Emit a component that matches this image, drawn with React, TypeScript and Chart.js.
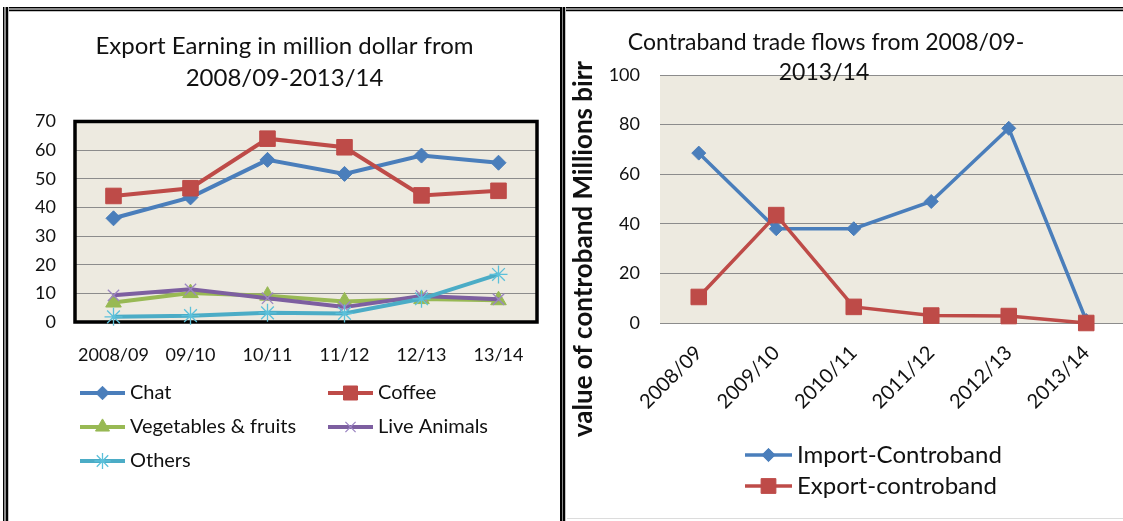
import React, { useEffect, useRef } from "react";
import { Chart, registerables } from "chart.js";
import { drawPoint } from "chart.js/helpers";

Chart.register(...registerables);

// ---------- Data: left chart ----------
const exportTitle = ["Export Earning in million dollar from", "2008/09-2013/14"];
const exportYears = ["2008/09", "09/10", "10/11", "11/12", "12/13", "13/14"];
const chatValues = [36.2, 43.5, 56.6, 51.7, 58.1, 55.6];
const coffeeValues = [44.0, 46.7, 64.0, 61.0, 44.2, 45.8];
const vegValues = [6.8, 10.1, 9.2, 7.2, 8.0, 7.6];
const liveAnimalValues = [9.3, 11.4, 8.3, 5.2, 9.1, 7.9];
const othersValues = [1.8, 2.2, 3.2, 3.0, 8.1, 16.6];
const exportSeriesNames = ["Chat", "Coffee", "Vegetables & fruits", "Live Animals", "Others"];
const exportYMin = 0;
const exportYMax = 70;
const exportYStep = 10;

// ---------- Data: right chart ----------
const contrabandTitle = ["Contraband trade flows from 2008/09-", "2013/14"];
const contrabandYears = ["2008/09", "2009/10", "2010/11", "2011/12", "2012/13", "2013/14"];
const importContraband = [68.5, 38.0, 38.0, 49.0, 78.5, 1.0];
const exportContraband = [10.5, 43.5, 6.5, 3.0, 2.8, 0.0];
const contrabandSeriesNames = ["Import-Controband", "Export-controband"];
const contrabandYTitle = "value of controband Millions birr";
const contrabandYMin = 0;
const contrabandYMax = 100;
const contrabandYStep = 20;

const FONT = "Lato, 'Open Sans', 'Liberation Sans', sans-serif";
const PLOT_BG = "#EDEAE0";
const GRID = "#8c8c8c";
const TEXT = "#111";

const BLUE = "#4A7EBB";
const RED = "#BE4B48";
const GREEN = "#98B954";
const PURPLE = "#7D5FA0";
const CYAN = "#4BACC6";

// ---------- Plugins ----------
const plotFrame = {
  id: "plotFrame",
  beforeDraw(chart: any, _a: any, opts: any) {
    const { ctx, chartArea: a } = chart;
    ctx.save();
    ctx.fillStyle = opts.background;
    ctx.fillRect(a.left, a.top, a.right - a.left, a.bottom - a.top);
    ctx.restore();
  },
  beforeDatasetsDraw(chart: any, _a: any, opts: any) {
    if (!opts.borderWidth) return;
    const { ctx, chartArea: a } = chart;
    ctx.save();
    ctx.strokeStyle = opts.borderColor;
    ctx.lineWidth = opts.borderWidth;
    ctx.strokeRect(a.left, a.top, a.right - a.left, a.bottom - a.top);
    ctx.restore();
  },
};

const freeText = {
  id: "freeText",
  afterDraw(chart: any, _a: any, opts: any) {
    const ctx = chart.ctx;
    const items = opts.items || [];
    for (let i = 0; i < items.length; i++) {
      const t = items[i];
      ctx.save();
      ctx.translate(t.x, t.y);
      ctx.rotate(t.rotation || 0);
      ctx.font = t.font;
      ctx.fillStyle = t.color;
      ctx.textAlign = "center";
      ctx.textBaseline = "middle";
      ctx.fillText(t.text, 0, 0);
      ctx.restore();
    }
  },
};

const gridLegend = {
  id: "gridLegend",
  afterDraw(chart: any, _a: any, opts: any) {
    const ctx = chart.ctx;
    chart.data.datasets.forEach((ds: any, i: number) => {
      const col = i % opts.columns;
      const row = Math.floor(i / opts.columns);
      const x = opts.x + col * opts.columnWidth;
      const y = opts.y + row * opts.rowHeight;
      ctx.save();
      ctx.strokeStyle = ds.borderColor;
      ctx.lineWidth = ds.borderWidth;
      ctx.beginPath();
      ctx.moveTo(x, y);
      ctx.lineTo(x + opts.lineLength, y);
      ctx.stroke();
      ctx.fillStyle = ds.pointBackgroundColor;
      ctx.strokeStyle = ds.pointBorderColor;
      ctx.lineWidth = ds.pointBorderWidth;
      drawPoint(
        ctx,
        {
          pointStyle: ds.pointStyle,
          radius: ds.pointRadius * opts.markerScale,
          borderWidth: ds.pointBorderWidth,
          rotation: 0,
        } as any,
        x + opts.lineLength / 2,
        y
      );
      ctx.fillStyle = opts.color;
      ctx.font = opts.font;
      ctx.textAlign = "left";
      ctx.textBaseline = "middle";
      ctx.fillText(ds.label, x + opts.lineLength + opts.gap, y);
      ctx.restore();
    });
  },
};

function series(label: string, data: number[], color: string, style: string, radius: number, order: number, width: number, markerBorder?: string, markerBorderWidth?: number) {
  return {
    label,
    data,
    borderColor: color,
    backgroundColor: color,
    borderWidth: width,
    pointStyle: style,
    pointRadius: radius,
    pointHoverRadius: radius,
    pointBackgroundColor: color,
    pointBorderColor: markerBorder || color,
    pointBorderWidth: markerBorderWidth ?? 1,
    tension: 0,
    clip: false as any,
    order,
  };
}

function leftConfig(): any {
  return {
    type: "line",
    data: {
      labels: exportYears,
      datasets: [
        series(exportSeriesNames[0], chatValues, BLUE, "rectRot", 7.5, 4, 4),
        series(exportSeriesNames[1], coffeeValues, RED, "rect", 11, 3, 4),
        series(exportSeriesNames[2], vegValues, GREEN, "triangle", 9, 2, 4),
        series(exportSeriesNames[3], liveAnimalValues, PURPLE, "crossRot", 8, 1, 4, "#9C86C2", 1.3),
        series(exportSeriesNames[4], othersValues, CYAN, "star", 9, 0, 4, "#5CC0DA", 1.3),
      ],
    },
    options: {
      responsive: false,
      animation: false,
      layout: { padding: { left: 22, right: 22, top: 0, bottom: 139 } },
      scales: {
        x: {
          type: "category",
          offset: true,
          grid: { display: false },
          border: { display: false },
          ticks: { color: TEXT, font: { family: FONT, size: 18 }, padding: 14, maxRotation: 0, autoSkip: false },
          afterFit: (s: any) => { s.height = 60; },
        },
        y: {
          min: exportYMin,
          max: exportYMax,
          ticks: { stepSize: exportYStep, color: TEXT, font: { family: FONT, size: 18 }, padding: 19 },
          grid: { color: GRID, lineWidth: 1, drawTicks: false },
          border: { display: false },
          afterFit: (s: any) => { s.width = 43; },
        },
      },
      plugins: {
        legend: { display: false },
        tooltip: { enabled: false },
        title: {
          display: true,
          text: exportTitle,
          color: TEXT,
          font: { family: FONT, size: 24, weight: "normal", lineHeight: 1.333 },
          padding: { top: 18, bottom: 27.5 },
        },
        plotFrame: { background: PLOT_BG, borderColor: "#000", borderWidth: 3.5 },
        gridLegend: {
          x: 70, y: 381, columns: 2, columnWidth: 248, rowHeight: 34,
          lineLength: 45, gap: 5, markerScale: 0.9, color: TEXT, font: `20px ${FONT}`,
        },
      },
    },
    plugins: [plotFrame, gridLegend],
  };
}

function rightConfig(): any {
  return {
    type: "line",
    data: {
      labels: contrabandYears,
      datasets: [
        series(contrabandSeriesNames[0], importContraband, BLUE, "rectRot", 7, 1, 3.5),
        series(contrabandSeriesNames[1], exportContraband, RED, "rect", 11, 0, 3.5),
      ],
    },
    options: {
      responsive: false,
      animation: false,
      layout: { padding: { left: 0, right: 22, top: 63, bottom: 88 } },
      scales: {
        x: {
          type: "category",
          offset: true,
          grid: { display: false },
          border: { display: false },
          ticks: { color: TEXT, font: { family: FONT, size: 20 }, padding: 10, minRotation: 45, maxRotation: 45, autoSkip: false },
          afterFit: (s: any) => { s.height = 110; },
        },
        y: {
          min: contrabandYMin,
          max: contrabandYMax,
          ticks: { stepSize: contrabandYStep, color: TEXT, font: { family: FONT, size: 18 }, padding: 20 },
          grid: { color: GRID, lineWidth: 1, drawTicks: false },
          border: { display: false },
          afterFit: (s: any) => { s.width = 93; },
        },
      },
      plugins: {
        legend: { display: false },
        tooltip: { enabled: false },
        title: { display: false },
        plotFrame: { background: PLOT_BG, borderWidth: 0 },
        freeText: {
          items: [
            { text: contrabandTitle[0], x: 259, y: 31, font: `23px ${FONT}`, color: TEXT, rotation: 0 },
            { text: contrabandTitle[1], x: 257, y: 61, font: `23px ${FONT}`, color: TEXT, rotation: 0 },
            { text: contrabandYTitle, x: 17, y: 237, font: `bold 26px ${FONT}`, color: TEXT, rotation: -Math.PI / 2 },
          ],
        },
        gridLegend: {
          x: 178, y: 443, columns: 1, columnWidth: 0, rowHeight: 31,
          lineLength: 47, gap: 5, markerScale: 0.95, color: TEXT, font: `24px ${FONT}`,
        },
      },
    },
    plugins: [plotFrame, freeText, gridLegend],
  };
}

const hLine = "linear-gradient(to bottom, #000 0px, #000 1px, #8a8a8a 1px, #8a8a8a 3px, #000 3px, #000 4px, #c4c4c4 4px, #c4c4c4 5px)";
const vLine = "linear-gradient(to right, #000 0px, #000 1.5px, #8a8a8a 1.5px, #8a8a8a 3.5px, #000 3.5px, #000 5px, #c4c4c4 5px, #c4c4c4 6px)";

export default function App() {
  const leftRef = useRef<HTMLCanvasElement>(null);
  const rightRef = useRef<HTMLCanvasElement>(null);

  useEffect(() => {
    const c1 = new Chart(leftRef.current as HTMLCanvasElement, leftConfig());
    const c2 = new Chart(rightRef.current as HTMLCanvasElement, rightConfig());
    return () => {
      c1.destroy();
      c2.destroy();
    };
  }, []);

  return (
    <div style={{ position: "absolute", left: 0, top: 0, width: 1123, height: 521, overflow: "hidden", background: "#fff" }}>
      <canvas ref={leftRef} width={549} height={509} style={{ position: "absolute", left: 10, top: 12, width: 549, height: 509 }} />
      <canvas ref={rightRef} width={580} height={509} style={{ position: "absolute", left: 567, top: 12, width: 580, height: 509 }} />
      <div style={{ position: "absolute", left: 3, top: 7, width: 1120, height: 5, background: hLine }} />
      <div style={{ position: "absolute", left: 3, top: 7, width: 6, height: 514, background: vLine }} />
      <div style={{ position: "absolute", left: 560, top: 7, width: 6, height: 514, background: vLine }} />
      <div style={{ position: "absolute", left: 567, top: 518, width: 556, height: 1, background: "#dcdcdc" }} />
    </div>
  );
}
